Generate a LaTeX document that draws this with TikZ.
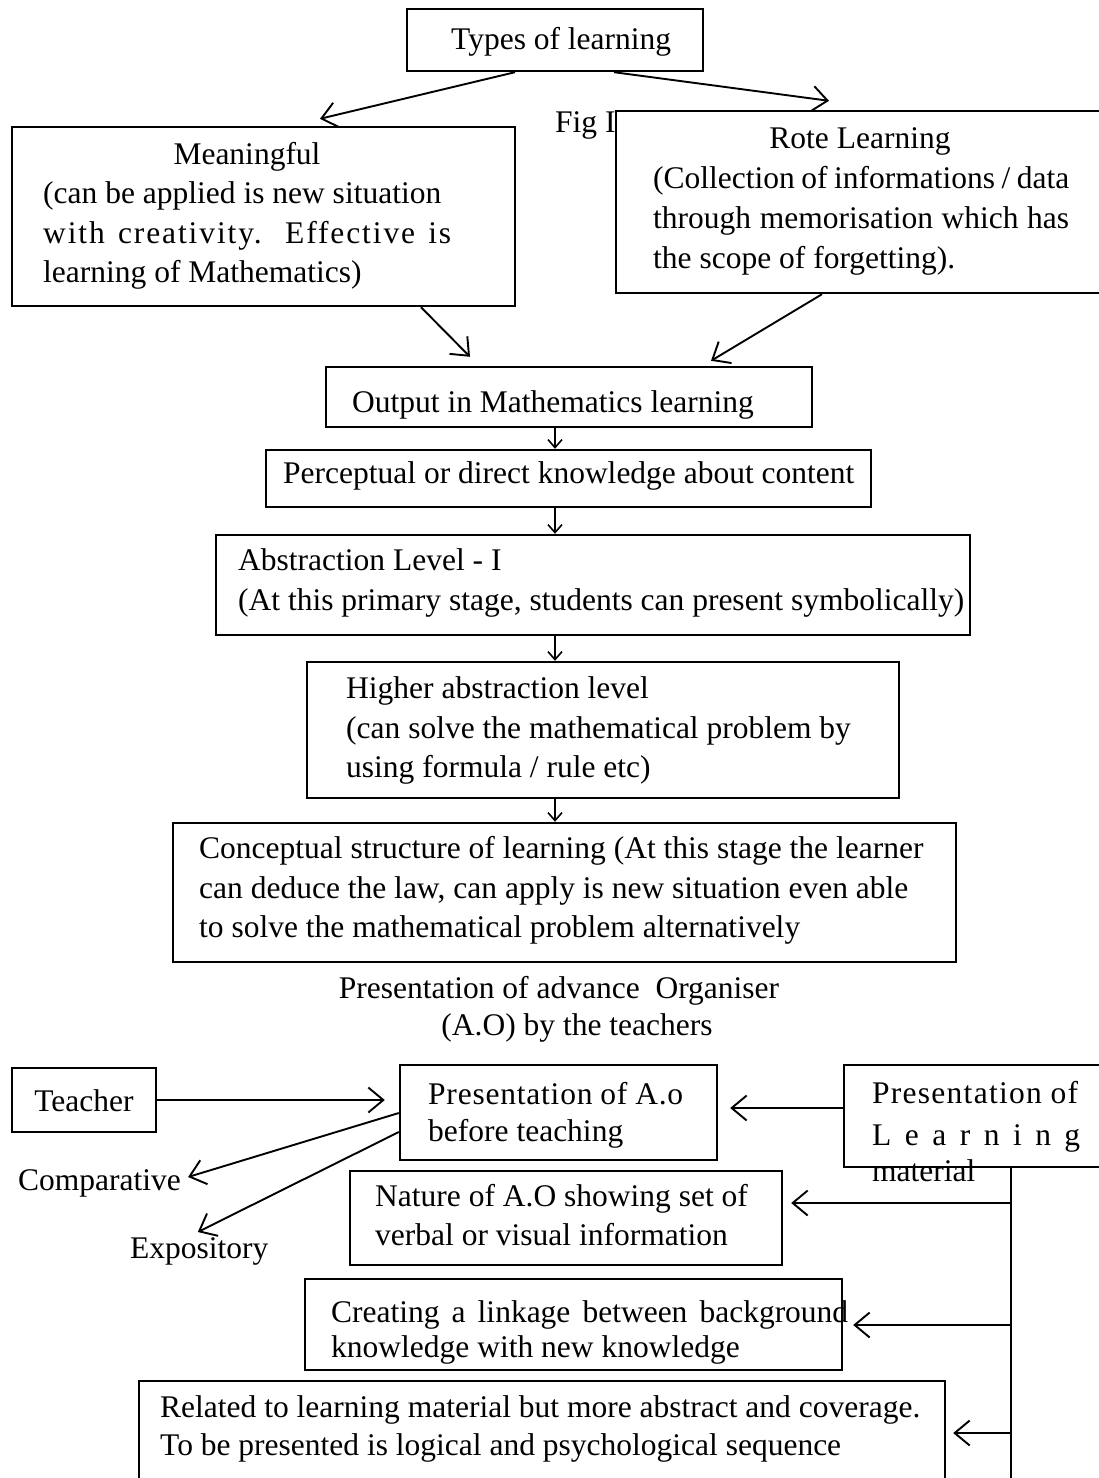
\documentclass[tikz,border=0pt]{standalone}
\usepackage{fontspec}
\setmainfont{Liberation Serif}
\usetikzlibrary{arrows.meta,calc}
\newcommand{\fz}{\fontsize{31.5}{39}\selectfont}
\newcommand{\spreadline}[2]{\makebox[#1][s]{#2}}
\newcommand{\lspline}[3]{\makebox[#1][s]{\addfontfeature{LetterSpace=#2}#3}}
\begin{document}
\begin{tikzpicture}[x=1pt,y=-1pt,
  box/.style={draw, line width=2.4pt, inner sep=0pt, fill=white},
  txt/.style={inner sep=0pt, anchor=base west, font=\fz},
  arr/.style={line width=1.9pt, -{Straight Barb[length=15pt,width=25pt,line width=1.9pt]}},
  sarr/.style={line width=1.6pt, -{Straight Barb[length=8pt,width=14pt,line width=1.6pt]}},
  pline/.style={line width=1.9pt}]
\useasboundingbox (0,0) rectangle (1099,1478);
\clip (0,0) rectangle (1099,1478);

% ---------- top part ----------
\node[box, minimum width=296pt, minimum height=62pt] (types) at (555,40) {};
\node[txt] (ttypes) at (451,49) {Types of learning};

\node[txt] (fig) at (555,132) {Fig I};

\node[box, minimum width=503pt, minimum height=179pt] (mean) at (263.5,216.5) {};
\node[txt, anchor=base] (m0) at (247,164) {Meaningful};
\node[txt] (m1) at (43,203) {(can be applied is new situation};
\node[txt] (m2) at (43,243) {\lspline{408pt}{6}{with creativity. Effective is}};
\node[txt] (m3) at (43,282) {learning of Mathematics)};

\node[box, minimum width=514pt, minimum height=182pt] (rote) at (873,202) {};
\node[txt, anchor=base] (r0) at (860,148) {Rote Learning};
\node[txt] (r1) at (653,188) {\spreadline{416pt}{(Collection of informations / data}};
\node[txt] (r2) at (653,228) {\spreadline{416pt}{through memorisation which has}};
\node[txt] (r3) at (653,268) {the scope of forgetting).};

\node[box, minimum width=486pt, minimum height=60pt] (out) at (569,397) {};
\node[txt] (tout) at (352,412) {Output in Mathematics learning};

\node[box, minimum width=605pt, minimum height=57pt] (perc) at (568.5,478.5) {};
\node[txt] (tperc) at (283,483) {Perceptual or direct knowledge about content};

\node[box, minimum width=754pt, minimum height=100pt] (abs) at (593,585) {};
\node[txt] (a1) at (238,570) {Abstraction Level - I};
\node[txt] (a2) at (238,610) {(At this primary stage, students can present symbolically)};

\node[box, minimum width=592pt, minimum height=136pt] (high) at (603,730) {};
\node[txt] (h1) at (346,698) {Higher abstraction level};
\node[txt] (h2) at (346,738) {(can solve the mathematical problem by};
\node[txt] (h3) at (346,777) {using formula / rule etc)};

\node[box, minimum width=783pt, minimum height=139pt] (conc) at (564.5,892.5) {};
\node[txt] (c1) at (199,858) {Conceptual structure of learning (At this stage the learner};
\node[txt] (c2) at (199,898) {can deduce the law, can apply is new situation even able};
\node[txt] (c3) at (199,937) {to solve the mathematical problem alternatively};

% top connectors
\draw[arr] ($(types.south)+(-40,0)$) -- ($(mean.north)+(56.5,-7)$);
\draw[arr] ($(types.south)+(59,0)$) -- ($(rote.north)+(-44,-9)$);
\draw[arr] ($(mean.south)+(157.5,0)$) -- ($(out.north)+(-99,-9)$);
\draw[arr] ($(rote.south)+(-51,0)$) -- ($(out.north)+(142,-5)$);
\draw[sarr] ($(out.south)+(-14,0)$) -- ($(perc.north)+(-13.5,0)$);
\draw[sarr] ($(perc.south)+(-13.5,0)$) -- ($(abs.north)+(-38,0)$);
\draw[sarr] ($(abs.south)+(-38,0)$) -- ($(high.north)+(-48,0)$);
\draw[sarr] ($(high.south)+(-48,0)$) -- ($(conc.north)+(-9.5,0)$);

% ---------- lower part ----------
\node[txt, anchor=base] (ti1) at (559,998) {Presentation of advance\ \ Organiser};
\node[txt, anchor=base] (ti2) at (577,1035) {(A.O) by the teachers};

\node[box, minimum width=144pt, minimum height=64pt] (teacher) at (84,1100) {};
\node[txt, anchor=base] (tteacher) at (84,1111) {Teacher};

\node[box, minimum width=317pt, minimum height=95pt] (pres) at (558.5,1112.5) {};
\node[txt] (p1) at (428,1104) {\lspline{255pt}{2.5}{Presentation of A.o}};
\node[txt] (p2) at (428,1141) {before teaching};

\node[box, minimum width=286pt, minimum height=102pt] (lm) at (987,1116) {};
\node[txt] (l1) at (872,1103) {\lspline{206pt}{4}{Presentation of}};
\node[txt] (l2) at (872,1145) {\spreadline{208pt}{L e a r n i n g}};
\node[txt] (l3) at (872,1181) {material};

\node[txt] (comp) at (18,1190) {Comparative};
\node[txt] (expo) at (130,1258) {Expository};

\node[box, minimum width=432pt, minimum height=94pt] (nature) at (566,1218) {};
\node[txt] (n1) at (375,1206) {Nature of A.O showing set of};
\node[txt] (n2) at (375,1245) {verbal or visual information};

\node[box, minimum width=537pt, minimum height=91pt, fill=none] (create) at (573.5,1324.5) {};
\node[txt] (cr1) at (331,1322) {\spreadline{517pt}{Creating a linkage between background}};
\node[txt] (cr2) at (331,1357) {knowledge with new knowledge};

\node[box, minimum width=806pt, minimum height=119pt] (related) at (542,1440.5) {};
\node[txt] (re1) at (160,1417) {Related to learning material but more abstract and coverage.};
\node[txt] (re2) at (160,1455) {To be presented is logical and psychological sequence};

% lower connectors
\draw[arr] (teacher.east) -- ($(pres.west)+(-14,-12.5)$);
\draw[arr] ($(lm.west)+(0,-8)$) -- ($(pres.east)+(12,-4.5)$);
\draw[arr] ($(pres.west)+(0,0.5)$) -- ($(comp.base east)+(7,-13)$);
\draw[arr] ($(pres.west)+(0,19.5)$) -- ($(expo.base)+(-1.5,-26)$);

\coordinate (vtop) at ($(lm.south)+(24,0)$);
\coordinate (vbot) at (1011,1490);
\draw[pline] (vtop) -- (vbot);
\coordinate (tipn) at ($(nature.east)+(8,-15)$);
\coordinate (tipc) at ($(create.east)+(10,0.5)$);
\coordinate (tipr) at ($(related.east)+(7,-7.5)$);
\draw[arr] (vtop |- tipn) -- (tipn);
\draw[arr] (vtop |- tipc) -- (tipc);
\draw[arr] (vtop |- tipr) -- (tipr);
\end{tikzpicture}
\end{document}
